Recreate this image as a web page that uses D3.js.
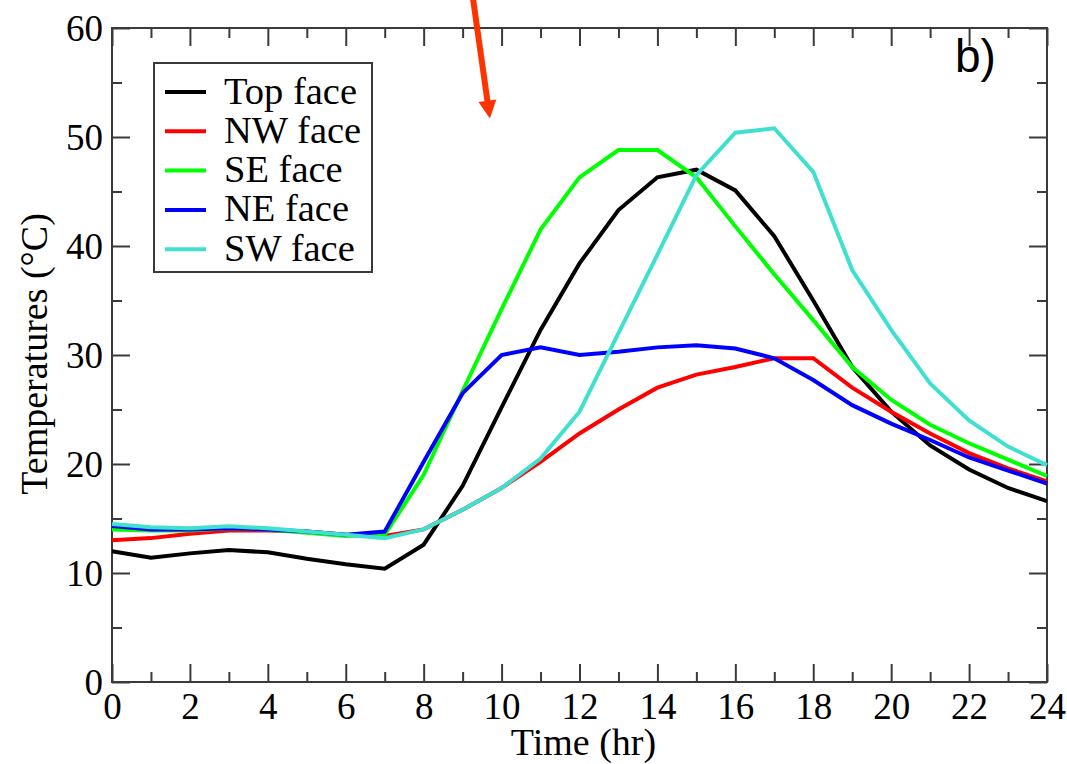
<!DOCTYPE html>
<html>
<head>
<meta charset="utf-8">
<script src="https://cdn.jsdelivr.net/npm/d3@7"></script>
<style>
  html, body { margin: 0; padding: 0; background: #fff; }
  svg { display: block; }
</style>
</head>
<body>
<svg id="chart" width="1067" height="764"></svg>
<script>
const hours = d3.range(0, 25);
const seriesNames = ["Top face", "NW face", "SE face", "NE face", "SW face"];
const seriesColors = ["#000000", "#ff0000", "#00ff00", "#0000ff", "#40e0d0"];
const topFace = [12.0, 11.4, 11.8, 12.1, 11.9, 11.3, 10.8, 10.4, 12.6, 18.0, 25.2, 32.3, 38.4, 43.3, 46.3, 47.0, 45.1, 40.9, 35.0, 28.9, 24.8, 21.7, 19.5, 17.8, 16.6];
const nwFace = [13.0, 13.2, 13.6, 13.9, 13.9, 13.8, 13.5, 13.4, 14.0, 15.8, 17.8, 20.2, 22.8, 25.0, 27.0, 28.2, 28.9, 29.7, 29.7, 27.0, 24.8, 22.8, 21.0, 19.6, 18.4];
const seFace = [14.0, 13.9, 13.9, 14.1, 14.0, 13.7, 13.4, 13.5, 19.0, 26.7, 34.2, 41.5, 46.3, 48.8, 48.8, 46.3, 41.8, 37.4, 33.2, 28.9, 25.9, 23.6, 21.9, 20.4, 18.9];
const neFace = [14.3, 14.0, 14.0, 14.1, 14.0, 13.8, 13.5, 13.8, 20.2, 26.5, 30.0, 30.7, 30.0, 30.3, 30.7, 30.9, 30.6, 29.7, 27.7, 25.4, 23.7, 22.2, 20.6, 19.4, 18.2];
const swFace = [14.5, 14.2, 14.1, 14.3, 14.1, 13.8, 13.5, 13.2, 14.0, 15.8, 17.8, 20.5, 24.8, 32.0, 39.2, 46.5, 50.4, 50.8, 46.8, 37.8, 32.3, 27.4, 24.0, 21.6, 19.9];
const seriesValues = [topFace, nwFace, seFace, neFace, swFace];
const xMajorTicks = d3.range(0, 25, 2);
const xMinorTicks = d3.range(1, 24, 2);
const yMajorTicks = d3.range(0, 61, 10);
const yMinorTicks = d3.range(5, 60, 10);
const xTitle = "Time (hr)";
const yTitle = "Temperatures (°C)";
const panelLabel = "b)";

const svg = d3.select("#chart");
svg.append("rect").attr("width", 1067).attr("height", 764).attr("fill", "#fff");

const pL = 112, pR = 1047, pT = 28, pB = 682;
const x = d3.scaleLinear().domain([0, 24]).range([pL, pR]);
const y = d3.scaleLinear().domain([0, 60]).range([pB, pT]);

const axisColor = "#3a3a3a";
const serif = "'Liberation Serif', 'Times New Roman', serif";

// frame
svg.append("rect").attr("x", pL).attr("y", pT)
  .attr("width", pR - pL).attr("height", pB - pT)
  .attr("fill", "none").attr("stroke", axisColor).attr("stroke-width", 2);

function styleAxis(g) {
  g.select(".domain").remove();
  g.selectAll(".tick line").attr("stroke", axisColor).attr("stroke-width", 2);
}
const majorLen = 18, minorLen = 10;
svg.append("g").attr("transform", `translate(0,${pB})`)
  .call(d3.axisBottom(x).tickValues(xMajorTicks).tickSize(-majorLen).tickFormat(d3.format("d")))
  .call(styleAxis)
  .call(g => g.selectAll("text").attr("font-family", serif).attr("font-size", 37).attr("fill", "#000").attr("y", 10).attr("dy", "0.72em"));
svg.append("g").attr("transform", `translate(0,${pB})`)
  .call(d3.axisBottom(x).tickValues(xMinorTicks).tickSize(-minorLen).tickFormat(""))
  .call(styleAxis);
svg.append("g").attr("transform", `translate(0,${pT})`)
  .call(d3.axisTop(x).tickValues(xMajorTicks).tickSize(-majorLen).tickFormat(""))
  .call(styleAxis);
svg.append("g").attr("transform", `translate(0,${pT})`)
  .call(d3.axisTop(x).tickValues(xMinorTicks).tickSize(-minorLen).tickFormat(""))
  .call(styleAxis);

svg.append("g").attr("transform", `translate(${pL},0)`)
  .call(d3.axisLeft(y).tickValues(yMajorTicks).tickSize(-majorLen).tickFormat(d3.format("d")))
  .call(styleAxis)
  .call(g => g.selectAll("text").attr("font-family", serif).attr("font-size", 37).attr("fill", "#000").attr("x", -9).attr("dy", "0.34em"));
svg.append("g").attr("transform", `translate(${pL},0)`)
  .call(d3.axisLeft(y).tickValues(yMinorTicks).tickSize(-minorLen).tickFormat(""))
  .call(styleAxis);
svg.append("g").attr("transform", `translate(${pR},0)`)
  .call(d3.axisRight(y).tickValues(yMajorTicks).tickSize(-majorLen).tickFormat(""))
  .call(styleAxis);
svg.append("g").attr("transform", `translate(${pR},0)`)
  .call(d3.axisRight(y).tickValues(yMinorTicks).tickSize(-minorLen).tickFormat(""))
  .call(styleAxis);

// lines
const line = d3.line().x((d, i) => x(hours[i])).y(d => y(d));
seriesValues.forEach((vals, k) => {
  svg.append("path").datum(vals)
    .attr("d", line)
    .attr("fill", "none")
    .attr("stroke", seriesColors[k])
    .attr("stroke-width", 4)
    .attr("stroke-linejoin", "miter");
});

// axis titles
svg.append("text").attr("x", (pL + pR) / 2 + 4).attr("y", 755)
  .attr("text-anchor", "middle").attr("font-family", serif).attr("font-size", 38)
  .text(xTitle);
svg.append("text").attr("transform", `translate(47,${(pT + pB) / 2 - 1}) rotate(-90)`)
  .attr("text-anchor", "middle").attr("font-family", serif).attr("font-size", 38)
  .text(yTitle);

// legend
const lg = svg.append("g");
lg.append("rect").attr("x", 154).attr("y", 63).attr("width", 218).attr("height", 209)
  .attr("fill", "#fff").attr("stroke", axisColor).attr("stroke-width", 2);
seriesNames.forEach((name, k) => {
  const cy = 92 + k * 39.3;
  lg.append("line").attr("x1", 165).attr("x2", 206).attr("y1", cy).attr("y2", cy)
    .attr("stroke", seriesColors[k]).attr("stroke-width", 4);
  lg.append("text").attr("x", 224).attr("y", cy).attr("dy", "0.3em")
    .attr("font-family", serif).attr("font-size", 38.5).text(name);
});

// panel label
svg.append("text").attr("x", 955).attr("y", 72)
  .attr("font-family", "'Liberation Sans', Arial, sans-serif").attr("font-size", 46)
  .text(panelLabel);

// red arrow annotation (in data coordinates)
const arrowStart = [9.27, 62.6], arrowTip = [9.70, 51.7];
const sx = x(arrowStart[0]), sy = y(arrowStart[1]);
const tx = x(arrowTip[0]), ty = y(arrowTip[1]);
const len = Math.hypot(tx - sx, ty - sy);
const ux = (tx - sx) / len, uy = (ty - sy) / len;
const headLen = 18, headHalf = 9;
const bx = tx - ux * headLen, by = ty - uy * headLen;
svg.append("line").attr("x1", sx).attr("y1", sy).attr("x2", bx + ux * 2).attr("y2", by + uy * 2)
  .attr("stroke", "#ff3300").attr("stroke-width", 6);
svg.append("polygon")
  .attr("points", [[tx, ty], [bx - uy * headHalf, by + ux * headHalf], [bx + uy * headHalf, by - ux * headHalf]].map(p => p.join(",")).join(" "))
  .attr("fill", "#ff3300");
</script>
</body>
</html>
